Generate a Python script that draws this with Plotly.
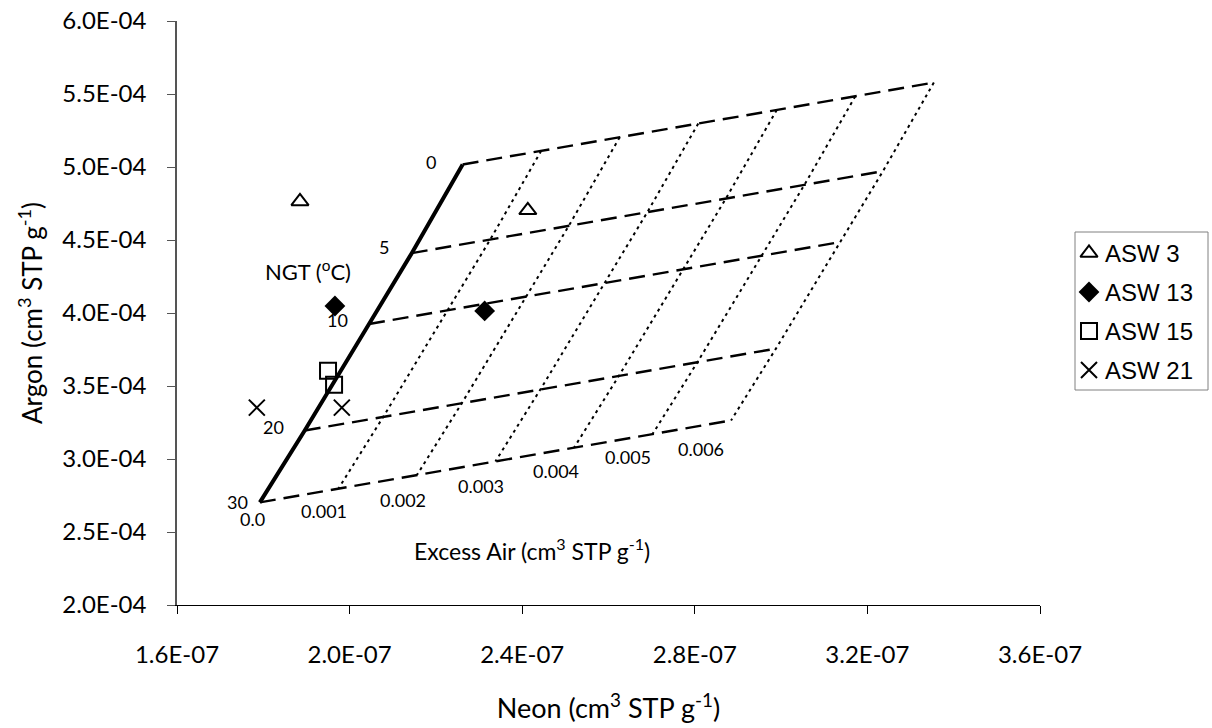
import plotly.graph_objects as go

# Noble gas temperature (NGT) isotherms at zero excess air
ngt_deg = [0, 5, 10, 20, 30]
ngt_neon = [2.262e-7, 2.144e-7, 2.045e-7, 1.896e-7, 1.792e-7]
ngt_argon = [5.017e-4, 4.410e-4, 3.925e-4, 3.195e-4, 2.703e-4]

# Excess air amounts (cm3 STP g-1) and gas added per 0.001 cm3 STP g-1 of air
excess_air = [0.0, 0.001, 0.002, 0.003, 0.004, 0.005, 0.006]
neon_per_ea = 1.82e-8 / 0.001
argon_per_ea = 9.35e-6 / 0.001

# Samples
sample_names = ["ASW 3", "ASW 13", "ASW 15", "ASW 21"]
sample_neon = [[1.885e-7, 2.413e-7], [1.966e-7, 2.313e-7], [1.950e-7, 1.964e-7], [1.785e-7, 1.982e-7]]
sample_argon = [[4.764e-4, 4.703e-4], [4.048e-4, 4.014e-4], [3.604e-4, 3.509e-4], [3.352e-4, 3.352e-4]]

x_ticks = [1.6e-7, 2.0e-7, 2.4e-7, 2.8e-7, 3.2e-7, 3.6e-7]
x_tick_text = ["1.6E-07", "2.0E-07", "2.4E-07", "2.8E-07", "3.2E-07", "3.6E-07"]
y_ticks = [2.0e-4, 2.5e-4, 3.0e-4, 3.5e-4, 4.0e-4, 4.5e-4, 5.0e-4, 5.5e-4, 6.0e-4]
y_tick_text = ["2.0E-04", "2.5E-04", "3.0E-04", "3.5E-04", "4.0E-04",
               "4.5E-04", "5.0E-04", "5.5E-04", "6.0E-04"]


def grid_point(i_t, ea):
    return (ngt_neon[i_t] + ea * neon_per_ea, ngt_argon[i_t] + ea * argon_per_ea)


TICK_FONT = "Lato, 'Open Sans', sans-serif"
LEGEND_FONT = "Liberation Sans, Arial, sans-serif"

# Page geometry (pixels)
W, H = 1212, 728
ML, MR, MT, MB = 177, 2, 21, 123
PLOT_RIGHT = 1040
inner_w = W - ML - MR
main_dom = (PLOT_RIGHT - ML) / inner_w
leg_left_px = 1060


def px_to_paper_x(px):
    return (px - ML) / inner_w


def px_to_paper_y(py):
    return (H - MB - py) / (H - MB - MT)


fig = go.Figure()

# Dotted excess-air lines (constant EA, across temperatures)
for ea in excess_air[1:]:
    pts = [grid_point(i, ea) for i in range(len(ngt_deg))]
    fig.add_trace(go.Scatter(
        x=[p[0] for p in pts], y=[p[1] for p in pts], mode="lines",
        line=dict(color="black", width=2, dash="3px,4px"),
        showlegend=False, hoverinfo="skip"))

# Dashed isotherms (constant NGT, across excess air)
for i in range(len(ngt_deg)):
    pts = [grid_point(i, ea) for ea in excess_air]
    fig.add_trace(go.Scatter(
        x=[p[0] for p in pts], y=[p[1] for p in pts], mode="lines",
        line=dict(color="black", width=2.4, dash="16px,8px"),
        showlegend=False, hoverinfo="skip"))

# Solid zero-excess-air line
fig.add_trace(go.Scatter(
    x=ngt_neon, y=ngt_argon, mode="lines",
    line=dict(color="black", width=4),
    showlegend=False, hoverinfo="skip"))

# Sample markers
marker_styles = [
    dict(symbol="triangle-up-open", size=15, color="black", line=dict(width=2, color="black")),
    dict(symbol="diamond", size=16, color="black", line=dict(width=0)),
    dict(symbol="square-open", size=16, color="black", line=dict(width=2, color="black")),
    dict(symbol="x-thin-open", size=16, color="black", line=dict(width=2, color="black")),
]
for k, name in enumerate(sample_names):
    fig.add_trace(go.Scatter(x=sample_neon[k], y=sample_argon[k], mode="markers", name=name,
                             marker=marker_styles[k], showlegend=False))

# Temperature labels along the zero-excess-air line
t_label_shift = [(-32, 3), (-28, 6), (-32, 4), (-31, 4), (-22, 0)]
for i, t in enumerate(ngt_deg):
    dx, dy = t_label_shift[i]
    fig.add_annotation(x=ngt_neon[i], y=ngt_argon[i], text=str(t), showarrow=False,
                       xshift=dx, yshift=dy, font=dict(family=TICK_FONT, size=18, color="black"))

# Excess-air labels along the 30 degree isotherm
ea_label_shift = [(-7, -17), (-14, -22), (-14, -25), (-14, -25), (-18, -23), (-25, -23), (-30, -29)]
ea_text = ["0.0", "0.001", "0.002", "0.003", "0.004", "0.005", "0.006"]
for k, ea in enumerate(excess_air):
    px, py = grid_point(len(ngt_deg) - 1, ea)
    dx, dy = ea_label_shift[k]
    fig.add_annotation(x=px, y=py, text=ea_text[k], showarrow=False,
                       xshift=dx, yshift=dy, font=dict(family=TICK_FONT, size=18, color="black"))

fig.add_annotation(x=px_to_paper_x(308), y=px_to_paper_y(270), xref="paper", yref="paper",
                   xanchor="center", yanchor="middle",
                   text="NGT (<sup>o</sup>C)", showarrow=False,
                   font=dict(family=TICK_FONT, size=22, color="black"))
fig.add_annotation(x=px_to_paper_x(532), y=px_to_paper_y(549), xref="paper", yref="paper",
                   xanchor="center", yanchor="middle",
                   text="Excess Air (cm<sup>3</sup> STP g<sup>-1</sup>)", showarrow=False,
                   font=dict(family=TICK_FONT, size=23, color="black"))

# Legend panel on its own pixel-scaled axes
leg_box = dict(x0=1075, x1=1208, y0=232, y1=390)
leg_rows = [253, 292, 331, 370]
fig.add_shape(type="rect", xref="x2", yref="y2", x0=leg_box["x0"], x1=leg_box["x1"],
              y0=leg_box["y0"], y1=leg_box["y1"], line=dict(color="#808080", width=1),
              fillcolor="white", layer="below")
for k, name in enumerate(sample_names):
    fig.add_trace(go.Scatter(x=[1089], y=[leg_rows[k]], mode="markers", xaxis="x2", yaxis="y2",
                             marker=marker_styles[k], showlegend=False, hoverinfo="skip"))
    fig.add_annotation(x=1103, y=leg_rows[k], xref="x2", yref="y2", text=name, showarrow=False,
                       xanchor="left", yanchor="middle",
                       font=dict(family=LEGEND_FONT, size=24, color="black"))

fig.update_layout(
    width=W, height=H,
    margin=dict(l=ML, r=MR, t=MT, b=MB, autoexpand=False),
    paper_bgcolor="white", plot_bgcolor="white",
    font=dict(family=TICK_FONT, color="black"),
    showlegend=False,
    xaxis=dict(
        domain=[0, main_dom], automargin=False,
        range=[1.6e-7, 3.6e-7], tickvals=x_ticks, ticktext=x_tick_text,
        showgrid=False, zeroline=False, showline=True, linecolor="black", linewidth=1,
        ticks="outside", ticklen=8, tickcolor="black", ticklabelstandoff=20,
        tickfont=dict(family=TICK_FONT, size=24, color="black"),
        title=dict(text="Neon (cm<sup>3</sup> STP g<sup>-1</sup>)",
                   font=dict(family=TICK_FONT, size=27, color="black"), standoff=32),
    ),
    yaxis=dict(
        automargin=False,
        range=[2.0e-4, 6.0e-4], tickvals=y_ticks, ticktext=y_tick_text,
        showgrid=False, zeroline=False, showline=True, linecolor="#555555", linewidth=1.5,
        ticks="outside", ticklen=8, tickcolor="#555555", ticklabelstandoff=16,
        tickfont=dict(family=TICK_FONT, size=24, color="black"),
        title=dict(text="Argon (cm<sup>3</sup> STP g<sup>-1</sup>)",
                   font=dict(family=TICK_FONT, size=26, color="black"), standoff=12),
    ),
    xaxis2=dict(domain=[px_to_paper_x(leg_left_px), 1.0], range=[leg_left_px, W - MR],
                visible=False, fixedrange=True, automargin=False),
    yaxis2=dict(domain=[0, 1], range=[H - MB, MT], anchor="x2",
                visible=False, fixedrange=True, automargin=False),
)

fig.write_html("out.html")
